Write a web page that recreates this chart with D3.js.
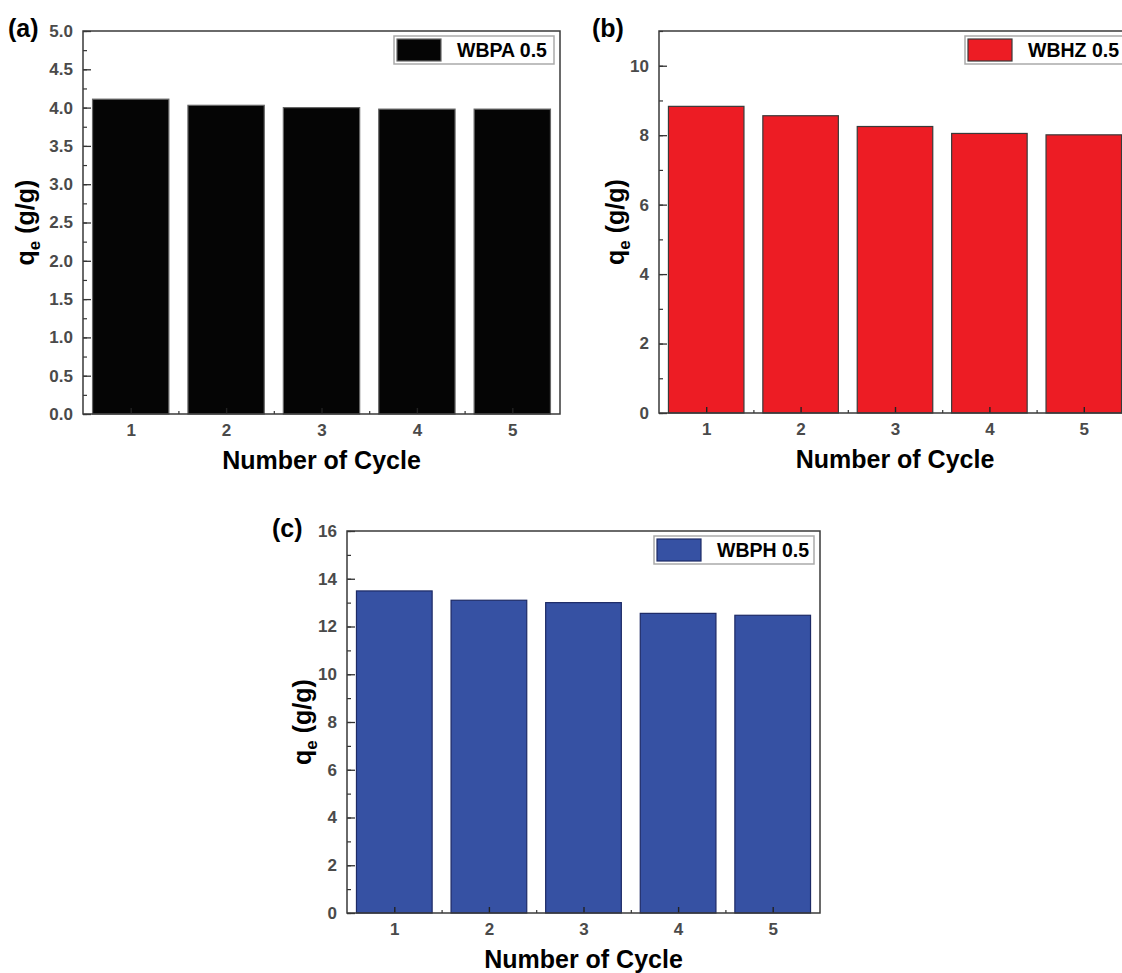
<!DOCTYPE html>
<html>
<head>
<meta charset="utf-8">
<script src="https://cdn.jsdelivr.net/npm/d3@7"></script>
<style>
  body { margin: 0; background: #fff; }
  svg { display: block; font-family: "Liberation Sans", Arial, sans-serif; }
</style>
</head>
<body>
<div id="chart-area"></div>
<script>
const WIDTH = 1122;
const HEIGHT = 973;

// data
const cycles = [1, 2, 3, 4, 5];
const wbpaValues = [4.11, 4.03, 4.00, 3.98, 3.98];
const wbhzValues = [8.83, 8.56, 8.25, 8.05, 8.01];
const wbphValues = [13.49, 13.10, 13.00, 12.55, 12.47];

const wbpaTicks = [0, 0.5, 1.0, 1.5, 2.0, 2.5, 3.0, 3.5, 4.0, 4.5, 5.0];
const wbhzTicks = [0, 2, 4, 6, 8, 10];
const wbphTicks = [0, 2, 4, 6, 8, 10, 12, 14, 16];

const svg = d3.select('#chart-area')
  .append('svg')
  .attr('width', WIDTH)
  .attr('height', HEIGHT);

svg.append('rect').attr('width', WIDTH).attr('height', HEIGHT).attr('fill', '#fff');

function drawPanel(p) {
  const g = svg.append('g');

  const x = d3.scaleBand()
    .domain(cycles)
    .range([p.left, p.right])
    .paddingInner(0.2)
    .paddingOuter(0.1);
  const xc = d3.scaleLinear()
    .domain([0.5, 5.5])
    .range([p.left, p.right]);
  const y = d3.scaleLinear()
    .domain(p.yDomain)
    .range([p.bottom, p.top]);

  // bars
  g.selectAll('rect.bar')
    .data(p.values)
    .enter().append('rect')
    .attr('class', 'bar')
    .attr('x', (d, i) => x(cycles[i]))
    .attr('width', x.bandwidth())
    .attr('y', d => y(d))
    .attr('height', d => y(0) - y(d))
    .attr('fill', p.fill)
    .attr('stroke', p.edge)
    .attr('stroke-width', 1.2);

  // y axis: major ticks with labels, minor ticks without
  const yMinor = d3.range(p.yDomain[0], p.yDomain[1] + 1e-9, p.minorStep);
  g.append('g')
    .attr('transform', `translate(${p.left},0)`)
    .call(d3.axisLeft(y).tickValues(yMinor).tickSize(-4).tickFormat(''))
    .call(a => a.select('.domain').remove())
    .call(a => a.selectAll('line').attr('stroke', '#333').attr('stroke-width', 1.2));

  const yAxis = g.append('g')
    .attr('transform', `translate(${p.left},0)`)
    .call(d3.axisLeft(y).tickValues(p.ticks).tickSize(-8).tickPadding(10).tickFormat(p.format));
  yAxis.select('.domain').remove();
  yAxis.selectAll('line').attr('stroke', '#333').attr('stroke-width', 1.3);
  yAxis.selectAll('text')
    .attr('font-family', '"Liberation Sans", Arial, sans-serif')
    .attr('font-size', 17)
    .attr('font-weight', 'bold')
    .attr('fill', '#4a4a4a');

  // x axis
  g.append('g')
    .attr('transform', `translate(0,${p.bottom})`)
    .call(d3.axisBottom(xc).tickValues([1.5, 2.5, 3.5, 4.5]).tickSize(-3).tickFormat(''))
    .call(a => a.select('.domain').remove())
    .call(a => a.selectAll('line').attr('stroke', '#333').attr('stroke-width', 1.2));

  const xAxis = g.append('g')
    .attr('transform', `translate(0,${p.bottom})`)
    .call(d3.axisBottom(xc).tickValues(cycles).tickSize(-6).tickPadding(10).tickFormat(d3.format('d')));
  xAxis.select('.domain').remove();
  xAxis.selectAll('line').attr('stroke', '#222').attr('stroke-width', 1.4);
  xAxis.selectAll('text')
    .attr('font-family', '"Liberation Sans", Arial, sans-serif')
    .attr('font-size', 17)
    .attr('font-weight', 'bold')
    .attr('fill', '#4a4a4a')
    .attr('dy', '0.72em');

  // frame
  g.append('rect')
    .attr('x', p.left)
    .attr('y', p.top)
    .attr('width', p.right - p.left)
    .attr('height', p.bottom - p.top)
    .attr('fill', 'none')
    .attr('stroke', '#3a3a3a')
    .attr('stroke-width', 1.5);

  // legend
  const lx = p.right - 166;
  const ly = p.top + 5;
  g.append('rect')
    .attr('x', lx).attr('y', ly)
    .attr('width', 160).attr('height', 28)
    .attr('fill', '#fff')
    .attr('stroke', '#aaa')
    .attr('stroke-width', 1.5);
  g.append('rect')
    .attr('x', lx + 3).attr('y', ly + 3)
    .attr('width', 44).attr('height', 22)
    .attr('fill', p.fill)
    .attr('stroke', p.edge)
    .attr('stroke-width', 1.2);
  g.append('text')
    .attr('x', lx + 63)
    .attr('y', ly + 21)
    .attr('font-size', 19.5)
    .attr('font-weight', 'bold')
    .attr('fill', '#000')
    .text(p.name);

  // axis titles
  g.append('text')
    .attr('x', (p.left + p.right) / 2)
    .attr('y', p.bottom + 55)
    .attr('text-anchor', 'middle')
    .attr('font-size', 25)
    .attr('font-weight', 'bold')
    .text('Number of Cycle');

  const yl = g.append('text')
    .attr('transform', `translate(${p.yLabelX},${(p.top + p.bottom) / 2}) rotate(-90)`)
    .attr('text-anchor', 'middle')
    .attr('font-size', 25)
    .attr('font-weight', 'bold');
  yl.append('tspan').text('q');
  yl.append('tspan').attr('font-size', 17).attr('dy', 6).text('e');
  yl.append('tspan').attr('dy', -6).text(' (g/g)');

  // panel label
  g.append('text')
    .attr('x', p.tagX)
    .attr('y', p.top + 6)
    .attr('font-size', 25)
    .attr('font-weight', 'bold')
    .text(p.tag);
}

drawPanel({
  tag: '(a)', tagX: 8, name: 'WBPA 0.5',
  values: wbpaValues, ticks: wbpaTicks, yDomain: [0, 5], minorStep: 0.25,
  format: d3.format('.1f'),
  left: 83, right: 560, top: 31, bottom: 414, yLabelX: 34,
  fill: '#050505', edge: '#666'
});

drawPanel({
  tag: '(b)', tagX: 592, name: 'WBHZ 0.5',
  values: wbhzValues, ticks: wbhzTicks, yDomain: [0, 11], minorStep: 1,
  format: d3.format('d'),
  left: 659, right: 1131, top: 31, bottom: 413, yLabelX: 624,
  fill: '#ed1c24', edge: '#3a3a3a'
});

drawPanel({
  tag: '(c)', tagX: 272, name: 'WBPH 0.5',
  values: wbphValues, ticks: wbphTicks, yDomain: [0, 16], minorStep: 1,
  format: d3.format('d'),
  left: 347, right: 820, top: 531, bottom: 913, yLabelX: 311,
  fill: '#3651a3', edge: '#1d2a66'
});
</script>
</body>
</html>
